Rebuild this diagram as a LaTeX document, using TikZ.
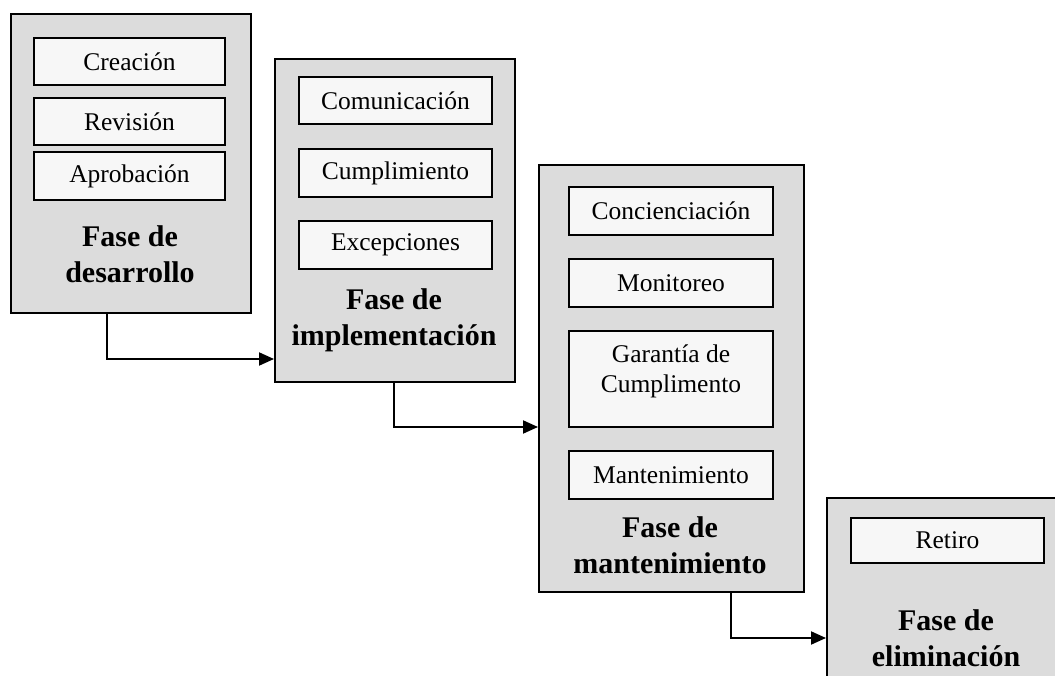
\documentclass[tikz,border=0pt]{standalone}
\usepackage{fontspec}
\setmainfont{Liberation Serif}
\usetikzlibrary{arrows.meta}
\definecolor{phasegray}{HTML}{DCDCDC}
\definecolor{itemgray}{HTML}{F7F7F7}
\tikzset{
  phasebox/.style={draw=black, fill=phasegray, line width=2pt, anchor=north west, inner sep=0pt},
  itembox/.style={draw=black, fill=itemgray, line width=2pt, anchor=north west, inner sep=0pt,
    align=center, font=\fontsize{25.5}{30}\selectfont},
  phasetitle/.style={align=center, inner sep=0pt, font=\fontsize{30}{36}\selectfont\bfseries},
  flow/.style={draw=black, line width=2pt, -{Triangle[length=15pt,width=13pt]}}
}
\begin{document}
\begin{tikzpicture}[x=1pt,y=-1pt]
\useasboundingbox (0,0) rectangle (1055,676);
\clip (0,0) rectangle (1055,676);
\fill[white] (0,0) rectangle (1055,676);

% phase boxes
\node[phasebox, minimum width=240pt, minimum height=299pt] (dev) at (10,13) {};
\node[phasebox, minimum width=240pt, minimum height=323pt] (impl) at (274,58) {};
\node[phasebox, minimum width=265pt, minimum height=427pt] (mant) at (538,164) {};
\node[phasebox, minimum width=241pt, minimum height=220pt] (elim) at (826,497) {};

% items: desarrollo
\node[itembox, minimum width=191pt, minimum height=47pt] (crea) at (33,37) {Creación};
\node[itembox, minimum width=191pt, minimum height=47pt] (revi) at (33,97) {Revisión};
\node[itembox, minimum width=191pt, minimum height=48pt] (apro) at (33,151) {Aprobación};
\node[phasetitle] (tdev) at (130,254) {Fase de\\desarrollo};

% items: implementacion
\node[itembox, minimum width=193pt, minimum height=47pt] (comu) at (298,76) {Comunicación};
\node[itembox, minimum width=193pt, minimum height=48pt] (cump) at (298,148) {Cumplimiento};
\node[itembox, minimum width=193pt, minimum height=48pt] (exce) at (298,220) {Excepciones};
\node[phasetitle] (timpl) at (394,320) {Fase de\\implementación};

% items: mantenimiento
\node[itembox, minimum width=204pt, minimum height=48pt] (conc) at (568,186) {Concienciación};
\node[itembox, minimum width=204pt, minimum height=48pt] (moni) at (568,258) {Monitoreo};
\node[itembox, minimum width=204pt, minimum height=96pt, text depth=20pt] (gara) at (568,330) {Garantía de\\Cumplimento};
\node[itembox, minimum width=204pt, minimum height=48pt] (mnto) at (568,450) {Mantenimiento};
\node[phasetitle] (tmant) at (670,545) {Fase de\\mantenimiento};

% items: eliminacion
\node[itembox, minimum width=193pt, minimum height=45pt] (reti) at (850,517) {Retiro};
\node[phasetitle] (telim) at (946,638) {Fase de\\eliminación};

% connectors
\coordinate (k1) at (107,359);
\coordinate (k2) at (394,427);
\coordinate (k3) at (731,638);
\draw[flow] (dev.south -| k1) |- (impl.west |- k1);
\draw[flow] (impl.south -| k2) |- (mant.west |- k2);
\draw[flow] (mant.south -| k3) |- (elim.west |- k3);
\end{tikzpicture}
\end{document}
